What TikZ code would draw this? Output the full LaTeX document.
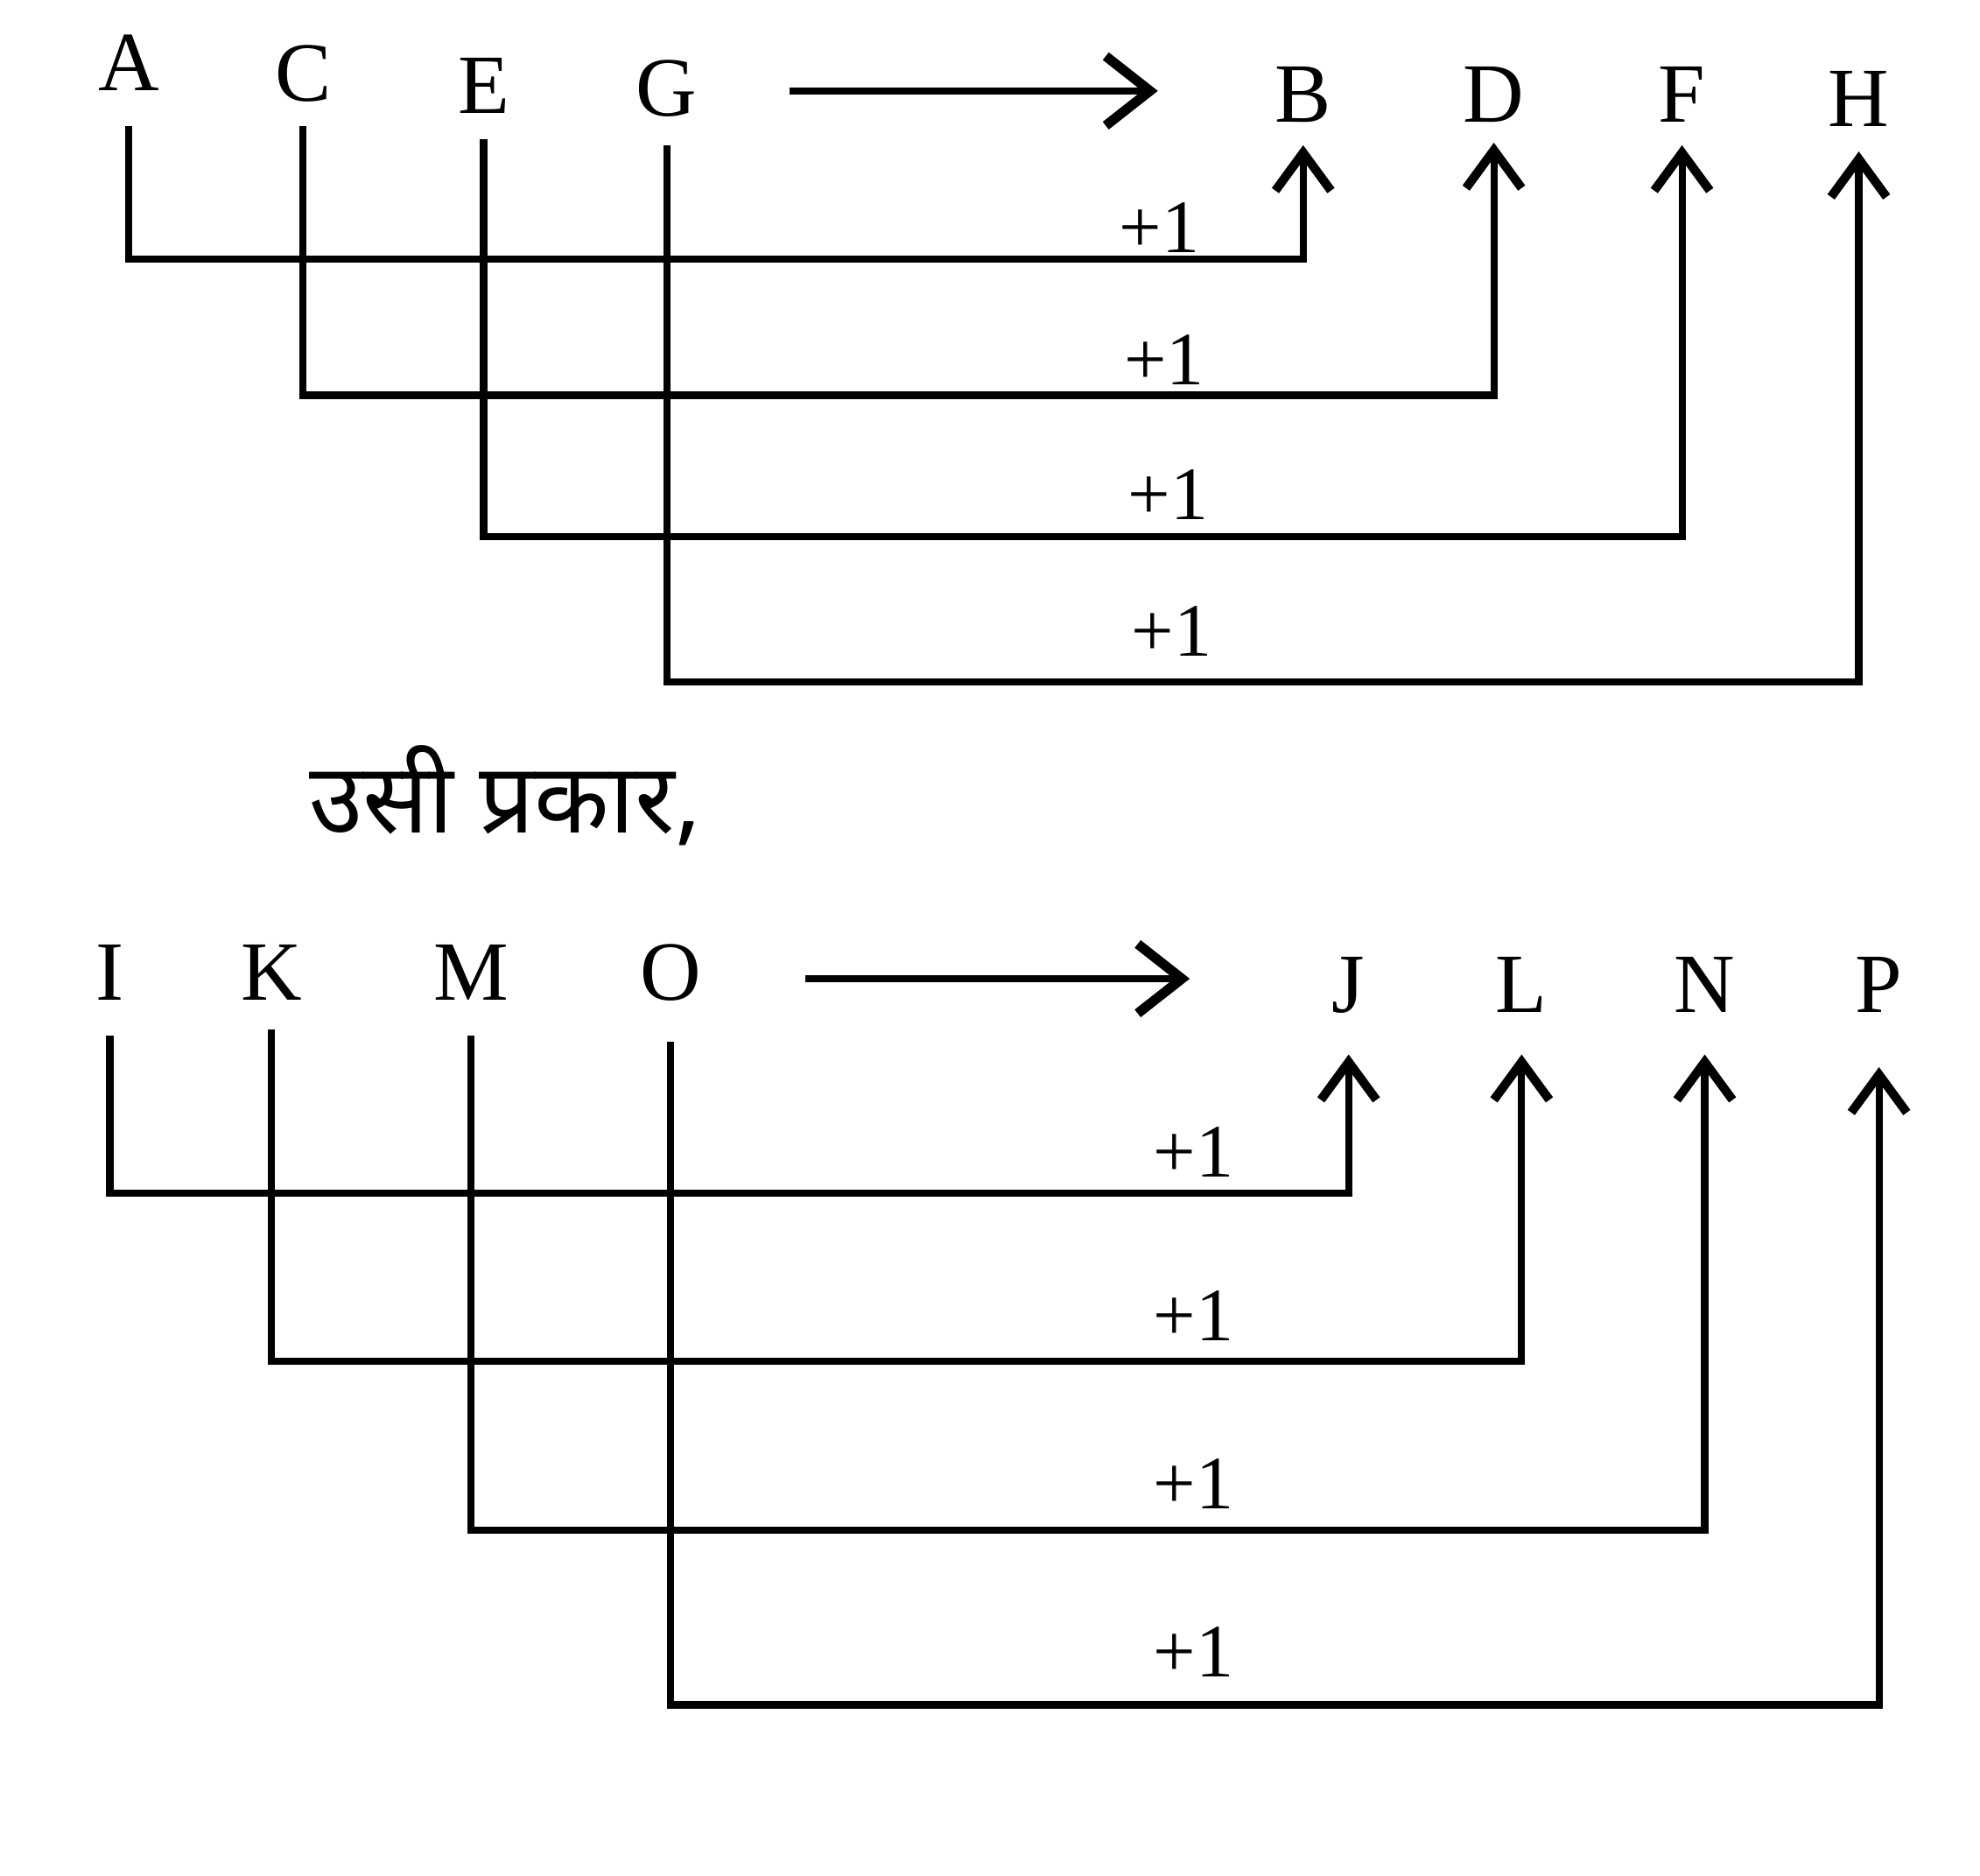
\documentclass[tikz,border=0pt]{standalone}
\usepackage{fontspec}
\setmainfont{Liberation Serif}
\newfontfamily\hindifont[Script=Devanagari]{Noto Sans}
\usetikzlibrary{arrows.meta}

\begin{document}
\begin{tikzpicture}[>={Straight Barb[length=3mm,width=4.4mm,line width=2pt]},
	  line width=1.6pt,
	  letter/.style={font=\fontsize{19}{22}\selectfont, inner sep=0pt},
	  plus/.style={font=\fontsize{17}{20}\selectfont, inner sep=0pt},
	  big arrow/.style={->, >={Straight Barb[length=3.5mm,width=5.5mm,line width=2.2pt]}}]

	 \useasboundingbox (0,0) rectangle (15.68,-14.85);

	 % first series
	 \node[letter] (A) at (1.02,-0.50) {A};
	 \node[letter] (C) at (2.40,-0.58) {C};
	 \node[letter] (E) at (3.83,-0.68) {E};
	 \node[letter] (G) at (5.28,-0.70) {G};
	 \node[letter] (B) at (10.32,-0.75) {B};
	 \node[letter] (D) at (11.83,-0.75) {D};
	 \node[letter] (F) at (13.32,-0.75) {F};
	 \node[letter] (H) at (14.72,-0.78) {H};

	 \draw[big arrow] ([xshift=7mm]G.east |- 0,-0.72) -- ([xshift=-9mm]B.west |- 0,-0.72);

	 \draw[->] (A |- 0,-1.00) |- (B |- 0,-2.05) -- (B |- 0,-1.15);
	 \draw[->] (C |- 0,-1.00) |- (D |- 0,-3.13) -- (D |- 0,-1.13);
	 \draw[->] (E |- 0,-1.10) |- (F |- 0,-4.25) -- (F |- 0,-1.15);
	 \draw[->] (G |- 0,-1.15) |- (H |- 0,-5.40) -- (H |- 0,-1.20);

	 \node[plus] (p1) at (9.18,-1.80) {+1};
	 \node[plus] (p2) at (9.22,-2.85) {+1};
	 \node[plus] (p3) at (9.25,-3.92) {+1};
	 \node[plus] (p4) at (9.28,-5.00) {+1};

	 \node[font=\hindifont\fontsize{22}{26}\selectfont, inner sep=0pt] (same) at (4.00,-6.30) {उसी प्रकार,};

	 % second series
	 \node[letter] (I) at (0.87,-7.70) {I};
	 \node[letter] (K) at (2.15,-7.70) {K};
	 \node[letter] (M) at (3.73,-7.70) {M};
	 \node[letter] (O) at (5.31,-7.70) {O};
	 \node[letter] (J) at (10.68,-7.80) {J};
	 \node[letter] (L) at (12.05,-7.80) {L};
	 \node[letter] (N) at (13.50,-7.80) {N};
	 \node[letter] (P) at (14.88,-7.80) {P};

	 \draw[big arrow] ([xshift=8mm]O.east |- 0,-7.75) -- ([xshift=-11mm]J.west |- 0,-7.75);

	 \draw[->] (I |- 0,-8.20) |- (J |- 0,-9.45) -- (J |- 0,-8.35);
	 \draw[->] (K |- 0,-8.15) |- (L |- 0,-10.78) -- (L |- 0,-8.35);
	 \draw[->] (M |- 0,-8.20) |- (N |- 0,-12.12) -- (N |- 0,-8.35);
	 \draw[->] (O |- 0,-8.25) |- (P |- 0,-13.50) -- (P |- 0,-8.45);

	 \node[plus] (q1) at (9.45,-9.12) {+1};
	 \node[plus] (q2) at (9.45,-10.42) {+1};
	 \node[plus] (q3) at (9.45,-11.75) {+1};
	 \node[plus] (q4) at (9.45,-13.08) {+1};
\end{tikzpicture}
\end{document}
